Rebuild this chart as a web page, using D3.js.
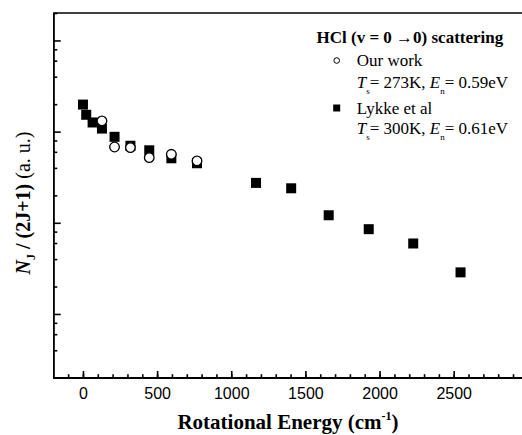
<!DOCTYPE html>
<html>
  <head>
    <meta charset="utf-8">
    <title>HCl rotational distribution</title>
    <script src="https://d3js.org/d3.v7.min.js"></script>
    <style>
      body { margin: 0; background: #fff; }
      svg { display: block; }
      .axis path, .axis line { stroke: #000; stroke-width: 1.6; }
      .tickText { font-family: "Liberation Sans", Arial, sans-serif; font-size: 16px; }
      .serif { font-family: "Liberation Serif", "Times New Roman", serif; }
    </style>
  </head>
  <body>
    <svg id="svg" width="522" height="435"></svg>
    <script>
      // data
      // Lykke et al (filled squares)
      lykkeE = [0, 22, 65, 128, 213, 320, 447, 596, 769, 1167, 1404, 1657, 1927, 2227, 2546];
      lykkeN = [1.98, 1.53, 1.26, 1.08, 0.877, 0.70, 0.624, 0.51, 0.45, 0.274, 0.239, 0.121, 0.0851, 0.0593, 0.0286];
      // our work (open circles)
      oursE = [128, 213, 320, 447, 596, 769];
      oursN = [1.31, 0.678, 0.668, 0.519, 0.564, 0.477];
      // ticks
      xMajor = [0, 500, 1000, 1500, 2000, 2500];
      xMinor = d3.range(-100, 3000, 100);
      yMajor = [0.01, 0.1, 1, 10];
      yMinorMult = [2, 4, 6, 8];

      svg = d3.select("#svg");
      left = 53.3; top_ = 13; bottom = 377.7;
      // x axis runs past the right edge (cropped in the original)
      x = d3.scaleLinear().domain([-200, 3000]).range([left, left + 3200 * 0.1483]);
      y = d3.scaleLog().domain([0.002, 20]).range([bottom, top_]);

      yMinor = [];
      [0.001, 0.01, 0.1, 1, 10].forEach(function(d) {
        yMinorMult.forEach(function(m) {
          var v = d * m;
          if (v >= 0.002 && v <= 20) yMinor.push(v);
        });
      });

      // frame top line
      svg.append("line")
        .attr("x1", left).attr("x2", 522)
        .attr("y1", top_).attr("y2", top_)
        .attr("stroke", "#000").attr("stroke-width", 1.6);

      // x axis
      svg.append("g").attr("class", "axis")
        .attr("transform", "translate(0," + bottom + ")")
        .call(d3.axisBottom(x).tickValues(xMinor).tickSizeInner(-3.5).tickSizeOuter(0).tickFormat(""));
      var xa = svg.append("g").attr("class", "axis")
        .attr("transform", "translate(0," + bottom + ")")
        .call(d3.axisBottom(x).tickValues(xMajor).tickSizeInner(-6.7).tickSizeOuter(0)
          .tickPadding(10).tickFormat(d3.format("d")));
      xa.selectAll("text").attr("class", "tickText").attr("fill", "#000");
      xa.select(".domain").attr("d", "M" + left + ",0H522");

      // y axis
      svg.append("g").attr("class", "axis")
        .attr("transform", "translate(" + left + ",0)")
        .call(d3.axisLeft(y).tickValues(yMinor).tickSizeInner(-4).tickSizeOuter(0).tickFormat(""));
      svg.append("g").attr("class", "axis")
        .attr("transform", "translate(" + left + ",0)")
        .call(d3.axisLeft(y).tickValues(yMajor).tickSizeInner(-7.4).tickSizeOuter(0).tickFormat(""));

      // points
      lykke = lykkeE.map(function(e, i) { return [e, lykkeN[i]]; });
      ours = oursE.map(function(e, i) { return [e, oursN[i]]; });
      svg.append("g").selectAll("rect")
        .data(lykke)
        .enter().append("rect")
          .attr("x", function(d) { return x(d[0]) - 5; })
          .attr("y", function(d) { return y(d[1]) - 5; })
          .attr("width", 10).attr("height", 10)
          .attr("fill", "#000");
      svg.append("g").selectAll("circle")
        .data(ours)
        .enter().append("circle")
          .attr("cx", function(d) { return x(d[0]); })
          .attr("cy", function(d) { return y(d[1]); })
          .attr("r", 4.8)
          .attr("fill", "#fff").attr("stroke", "#000").attr("stroke-width", 1.3);

      // axis titles
      var xt = svg.append("text").attr("class", "serif")
        .attr("x", 288).attr("y", 429)
        .attr("text-anchor", "middle")
        .attr("font-weight", "bold").attr("font-size", 21);
      xt.append("tspan").text("Rotational Energy (cm");
      xt.append("tspan").attr("font-size", 12).attr("dy", -9).text("-1");
      xt.append("tspan").attr("dy", 9).text(")");

      var yt = svg.append("text").attr("class", "serif")
        .attr("transform", "translate(30,203) rotate(-90)")
        .attr("text-anchor", "middle")
        .attr("font-weight", "bold").attr("font-size", 20);
      yt.append("tspan").attr("font-style", "italic").text("N");
      yt.append("tspan").attr("font-size", 12).attr("dy", 5).text("J");
      yt.append("tspan").attr("dy", -5).text(" / (2J+1) ");
      yt.append("tspan").attr("font-weight", "normal").text("(a. u.)");

      // legend
      var lg = svg.append("g").attr("class", "serif").attr("font-size", 17);
      lg.append("text").attr("x", 316.5).attr("y", 43)
        .attr("font-weight", "bold").text("HCl (v = 0 \u21920) scattering");
      lg.append("circle").attr("cx", 336.7).attr("cy", 60.5).attr("r", 2.8)
        .attr("fill", "#fff").attr("stroke", "#000").attr("stroke-width", 1);
      lg.append("rect").attr("x", 333.2).attr("y", 104.5).attr("width", 7).attr("height", 7)
        .attr("fill", "#000");
      legendRows = [
        ["Our work", 65.5, "273K", "0.59eV", 87.5],
        ["Lykke et al", 113.5, "300K", "0.61eV", 134]
      ];
      legendRows.forEach(function(r) {
        lg.append("text").attr("x", 356.7).attr("y", r[1]).text(r[0]);
        var t = lg.append("text").attr("x", 356.7).attr("y", r[4]);
        t.append("tspan").attr("font-style", "italic").text("T");
        t.append("tspan").attr("font-size", 9).attr("dy", 6).text("s");
        t.append("tspan").attr("dy", -6).text("= " + r[2] + ", ");
        t.append("tspan").attr("font-style", "italic").text("E");
        t.append("tspan").attr("font-size", 9).attr("dy", 6).text("n");
        t.append("tspan").attr("dy", -6).text("= " + r[3]);
      });
    </script>
  </body>
</html>
